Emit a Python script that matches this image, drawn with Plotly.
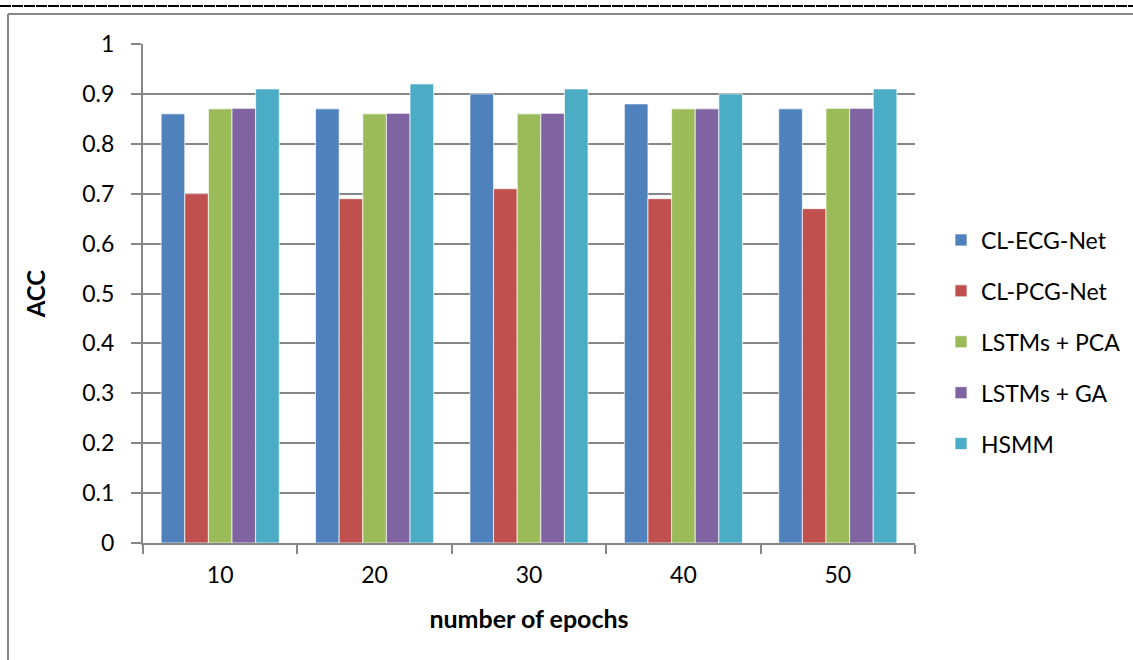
import plotly.graph_objects as go

epochs = ["10", "20", "30", "40", "50"]
series_names = ["CL-ECG-Net", "CL-PCG-Net", "LSTMs + PCA", "LSTMs + GA", "HSMM"]
cl_ecg = [0.86, 0.87, 0.90, 0.88, 0.87]
cl_pcg = [0.70, 0.69, 0.71, 0.69, 0.67]
lstm_pca = [0.87, 0.86, 0.86, 0.87, 0.871]
lstm_ga = [0.871, 0.861, 0.861, 0.87, 0.871]
hsmm = [0.91, 0.92, 0.91, 0.90, 0.91]
colors = ["#4F81BD", "#C0504D", "#9BBB59", "#8064A2", "#4BACC6"]
y_ticks = [0, 0.1, 0.2, 0.3, 0.4, 0.5, 0.6, 0.7, 0.8, 0.9, 1]

W, H = 1133, 660
L, R, T, B = 143, 915, 44, 543

fig = go.Figure()
for i, (name, vals, c) in enumerate(zip(series_names, [cl_ecg, cl_pcg, lstm_pca, lstm_ga, hsmm], colors)):
    fig.add_trace(go.Bar(x=epochs, y=vals, name=name, legendgroup="g%d" % i,
                         marker=dict(color=c, line=dict(color="rgba(255,255,255,0.7)", width=1))))

def px_x(p):
    return (p - L) / (R - L)

def px_y(p):
    return (B - p) / (B - T)

font = "Lato, Calibri, Carlito, sans-serif"
fig.update_layout(
    width=W, height=H,
    margin=dict(l=L, r=W - R, t=T, b=H - B, autoexpand=False),
    plot_bgcolor="white", paper_bgcolor="white",
    barmode="group", bargap=0.235, bargroupgap=0,
    font=dict(family=font, size=23, color="black"),
    showlegend=True,
    legend=dict(x=px_x(941), xanchor="left", y=px_y(342), yanchor="middle",
                font=dict(size=23, family=font), tracegroupgap=18,
                itemwidth=30, traceorder="grouped"),
    xaxis=dict(type="category", showline=True, linecolor="#868686", linewidth=2,
               ticks="outside", tickson="boundaries", ticklen=9, tickcolor="#868686",
               tickwidth=2, showgrid=False, automargin=False, ticklabelstandoff=10,
               title=dict(text="<b>number of epochs</b>", font=dict(size=25), standoff=24)),
    yaxis=dict(range=[0, 1], tickvals=y_ticks, showline=True, linecolor="#868686", linewidth=2,
               ticks="outside", ticklen=10, tickcolor="#868686", tickwidth=2,
               gridcolor="#868686", gridwidth=2, zeroline=False, ticklabelstandoff=12,
               automargin=False,
               title=dict(text="<b>ACC</b>", font=dict(size=24), standoff=30)),
)

# chart frame
fig.add_shape(type="line", xref="paper", yref="paper",
              x0=px_x(0), x1=px_x(W), y0=px_y(6), y1=px_y(6),
              line=dict(color="black", width=2, dash="11px,1px"))
fig.add_shape(type="line", xref="paper", yref="paper",
              x0=px_x(8), x1=px_x(W), y0=px_y(14), y1=px_y(14),
              line=dict(color="#868686", width=2))
fig.add_shape(type="line", xref="paper", yref="paper",
              x0=px_x(8), x1=px_x(8), y0=px_y(14), y1=px_y(H),
              line=dict(color="#868686", width=2))

fig.write_html("out.html", config={"displayModeBar": False},
               post_script="document.body.style.margin='0px';")
